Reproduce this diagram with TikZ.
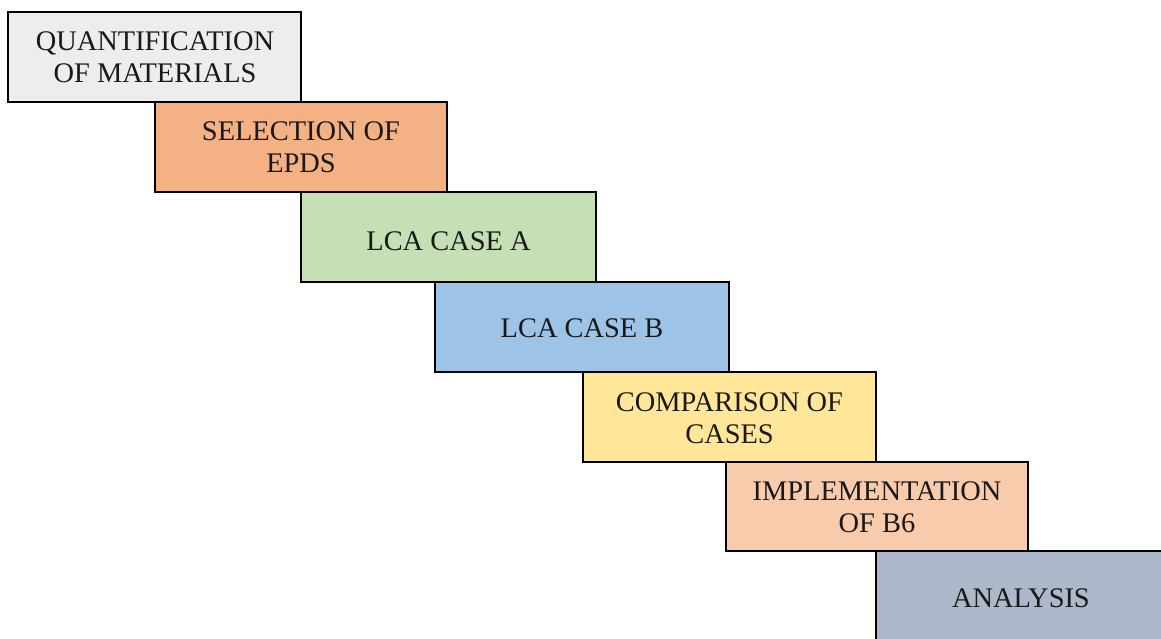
\documentclass[tikz,border=0pt]{standalone}
\usepackage{fontspec}
\setmainfont{Liberation Serif}
\definecolor{cgray}{HTML}{EDEDED}
\definecolor{corange}{HTML}{F4B183}
\definecolor{cgreen}{HTML}{C5E0B4}
\definecolor{cblue}{HTML}{9DC3E6}
\definecolor{cyellow}{HTML}{FFE699}
\definecolor{cpeach}{HTML}{F8CBAD}
\definecolor{cslate}{HTML}{ADB9CA}
\begin{document}
\begin{tikzpicture}[x=1pt,y=-1pt,
  stepbox/.style={draw=black,line width=2pt},
  steptext/.style={font=\fontsize{28.4}{32.5}\selectfont,align=center,text=black!90}]
\useasboundingbox (0,0) rectangle (1161,639);
\clip (0,0) rectangle (1161,639);
\fill[white] (0,0) rectangle (1161,639);
\draw[stepbox,fill=cgray] (8,12) rectangle (301,102);
\node[steptext] (q) at (155,57) {QUANTIFICATION\\OF MATERIALS};
\draw[stepbox,fill=corange] (155,102) rectangle (447,192);
\node[steptext] (s) at (301,147) {SELECTION OF\\EPDS};
\draw[stepbox,fill=cgreen] (301,192) rectangle (596,282);
\node[steptext] (a) at (448.5,241) {LCA CASE A};
\draw[stepbox,fill=cblue] (435,282) rectangle (729,372);
\node[steptext] (b) at (582,328) {LCA CASE B};
\draw[stepbox,fill=cyellow] (583,372) rectangle (876,462);
\node[steptext] (c) at (729.5,418) {COMPARISON OF\\CASES};
\draw[stepbox,fill=cpeach] (726,462) rectangle (1028,551);
\node[steptext] (i) at (877,507) {IMPLEMENTATION\\OF B6};
\draw[stepbox,fill=cslate] (876,551) rectangle (1170,650);
\node[steptext] (an) at (1021,598) {ANALYSIS};
\end{tikzpicture}
\end{document}
